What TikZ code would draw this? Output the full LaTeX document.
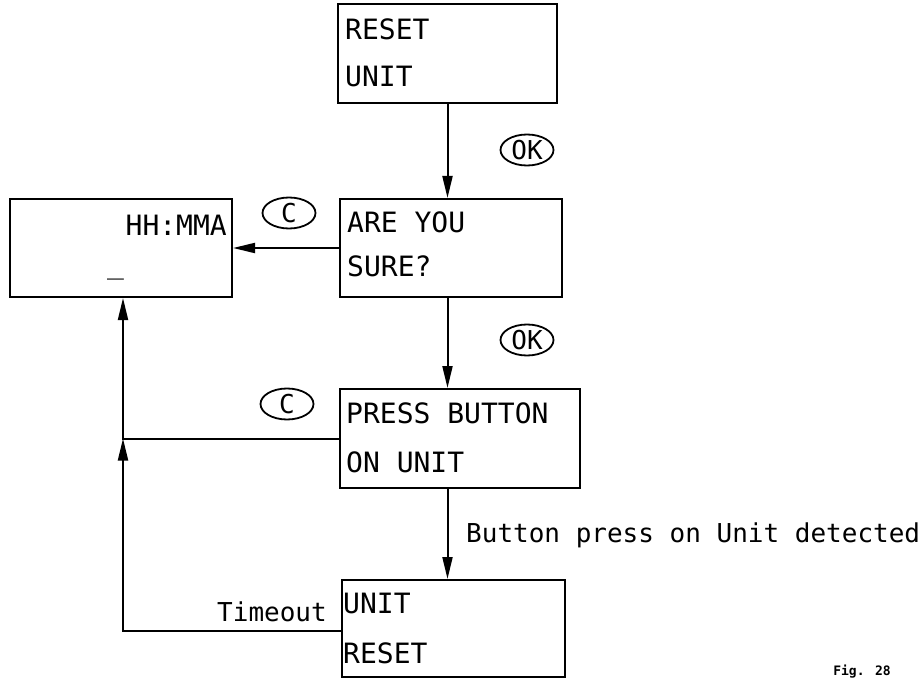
\documentclass[tikz,border=0pt]{standalone}
\usepackage{fontspec}
\newfontfamily\cad{DejaVu Sans Mono}
\usetikzlibrary{arrows.meta,shapes.geometric}
\tikzset{
  box/.style={draw,line width=2pt,inner sep=0pt},
  arr/.style={line width=2pt,-{Triangle[length=22pt,width=10pt]}},
  btext/.style={anchor=base west,inner sep=0pt,font=\cad\fontsize{28}{28}\selectfont},
  ltext/.style={inner sep=0pt,font=\cad\fontsize{26}{26}\selectfont},
  key/.style={draw,ellipse,line width=1.8pt,inner sep=0pt,minimum width=53pt,minimum height=31pt,font=\cad\fontsize{26}{26}\selectfont},
}
\begin{document}
\begin{tikzpicture}[x=1pt,y=-1pt]
\useasboundingbox (0,0) rectangle (920,679);
% boxes
\node[box,minimum width=219pt,minimum height=99pt] (b1) at (447.5,53.5) {};
\node[box,minimum width=222pt,minimum height=98pt] (b2) at (451,248) {};
\node[box,minimum width=240pt,minimum height=99pt] (b3) at (460,438.5) {};
\node[box,minimum width=223pt,minimum height=97pt] (b4) at (453.5,628.5) {};
\node[box,minimum width=222pt,minimum height=98pt] (hm) at (121,248) {};
% box texts
\node[btext] (t1a) at ([shift={(8,37)}]b1.north west) {RESET};
\node[btext] (t1b) at ([shift={(8,84)}]b1.north west) {UNIT};
\node[btext] (t2a) at ([shift={(8,34)}]b2.north west) {ARE YOU};
\node[btext] (t2b) at ([shift={(8,78)}]b2.north west) {SURE?};
\node[btext] (t3a) at ([shift={(7,35)}]b3.north west) {PRESS BUTTON};
\node[btext] (t3b) at ([shift={(7,84)}]b3.north west) {ON UNIT};
\node[btext] (t4a) at ([shift={(2,34)}]b4.north west) {UNIT};
\node[btext] (t4b) at ([shift={(2,84)}]b4.north west) {RESET};
\node[btext,anchor=base east] (thm) at ([shift={(-6,37)}]hm.north east) {HH:MMA};
\node[btext] (tcur) at ([shift={(98,75)}]hm.north west) {\_};
% vertical arrows
\draw[arr] (b1.south) -- (b1.south |- b2.north);
\draw[arr] (b2.south -| b1.south) -- (b1.south |- b3.north);
\draw[arr] (b3.south -| b1.south) -- (b1.south |- b4.north);
% left connectors
\draw[arr] (b2.west) -- (hm.east);
\coordinate (j) at (123,438.5);
\draw[arr] (b3.west) -- (j) -- (j |- hm.south);
\coordinate (tc) at (123,631);
\draw[arr] (b4.west |- tc) -- (tc) -- (j);
% keys
\node[key] (ok1) at (527,150) {OK};
\node[key] (ok2) at (527,340) {OK};
\node[key] (c1) at (289,213) {C};
\node[key] (c2) at (287,404) {C};
% labels
\node[ltext,anchor=base west] (bp) at (466,542) {Button press on Unit detected};
\node[ltext,anchor=base east] (to) at (327,621) {Timeout};
\node[inner sep=0pt,font=\cad\bfseries\fontsize{13}{13}\selectfont] (fig) at (862,672) {Fig. 28};
\end{tikzpicture}
\end{document}
